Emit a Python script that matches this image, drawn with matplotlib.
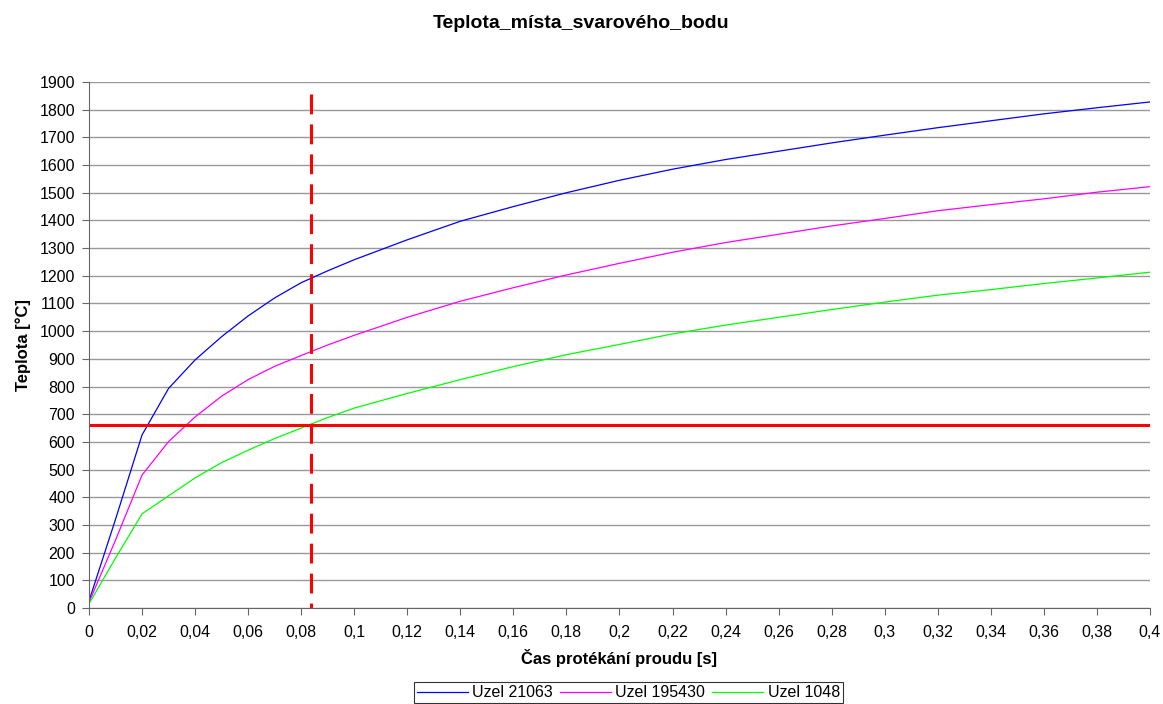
import matplotlib
matplotlib.use("Agg")
import matplotlib.pyplot as plt
import numpy as np

plt.rcParams['font.family'] = ['Liberation Sans', 'DejaVu Sans']

# cas [s]
t = [0, 0.01, 0.02, 0.03, 0.04, 0.05, 0.06, 0.07, 0.08, 0.09, 0.10,
     0.12, 0.14, 0.16, 0.18, 0.20, 0.22, 0.24, 0.26, 0.28, 0.30,
     0.32, 0.34, 0.36, 0.38, 0.40]

# teploty uzlu [°C]
uzel_21063 = [25, 320, 625, 793, 896, 980, 1055, 1120, 1175, 1218, 1258,
              1330, 1397, 1450, 1500, 1545, 1585, 1620, 1650, 1680, 1708,
              1735, 1760, 1785, 1807, 1828]
uzel_195430 = [20, 245, 480, 601, 690, 765, 825, 873, 912, 950, 985,
               1050, 1108, 1157, 1203, 1245, 1285, 1320, 1350, 1380, 1407,
               1435, 1457, 1478, 1502, 1522]
uzel_1048 = [15, 180, 340, 405, 470, 525, 570, 612, 650, 688, 722,
             775, 825, 872, 915, 952, 990, 1022, 1050, 1078, 1105,
             1130, 1150, 1172, 1192, 1213]

t_mez = 0.0837       # svislá čára
T_tavení = 660       # vodorovná čára

x_ticks = np.arange(0, 0.4001, 0.02)
x_labels = ['0', '0,02', '0,04', '0,06', '0,08', '0,1', '0,12', '0,14', '0,16',
            '0,18', '0,2', '0,22', '0,24', '0,26', '0,28', '0,3', '0,32',
            '0,34', '0,36', '0,38', '0,4']

fig = plt.figure(figsize=(11.63, 7.04), dpi=100)
ax = fig.add_axes([0.0765, 0.1364, 0.9123, 0.7471])

ax.plot(t, uzel_21063, color='#0000ff', lw=0.9, label='Uzel 21063')
ax.plot(t, uzel_195430, color='#ff00ff', lw=0.9, label='Uzel 195430')
ax.plot(t, uzel_1048, color='#00ff00', lw=0.9, label='Uzel 1048')

ax.axhline(T_tavení, color='#ff0000', lw=2.2)
ax.plot([t_mez, t_mez], [1855, 0], color='#ff0000', lw=2.2,
        dashes=(6.5, 3.3), solid_capstyle='butt', dash_capstyle='butt')

ax.set_xlim(0, 0.4)
ax.set_ylim(0, 1900)
ax.set_yticks(range(0, 1901, 100))
ax.set_xticks(x_ticks)
ax.set_xticklabels(x_labels)
ax.yaxis.grid(True, color='#999999', lw=1)
ax.set_axisbelow(True)
for s in ['top', 'right']:
    ax.spines[s].set_visible(False)
for s in ['left', 'bottom']:
    ax.spines[s].set_color('#666666')
ax.tick_params(axis='both', labelsize=11.5, color='#666666', length=5)
ax.tick_params(axis='y', pad=5)
ax.tick_params(axis='x', pad=7)

ax.set_xlabel('Čas protékání proudu [s]', fontsize=12, fontweight='bold', labelpad=7)
ax.set_ylabel('Teplota [°C]', fontsize=12, fontweight='bold', labelpad=6)
fig.suptitle('Teplota_místa_svarového_bodu', fontsize=14, fontweight='bold', y=0.978)

leg = fig.legend(loc='upper center', bbox_to_anchor=(0.5404, 1 - 682 / 704), ncol=3,
                 fontsize=11.5, frameon=True, fancybox=False, handlelength=3.15,
                 handletextpad=0.3, columnspacing=0.45, borderpad=0.2,
                 borderaxespad=0)
leg.get_frame().set_edgecolor('black')
leg.get_frame().set_linewidth(0.8)

fig.savefig('out.png', dpi=100)
